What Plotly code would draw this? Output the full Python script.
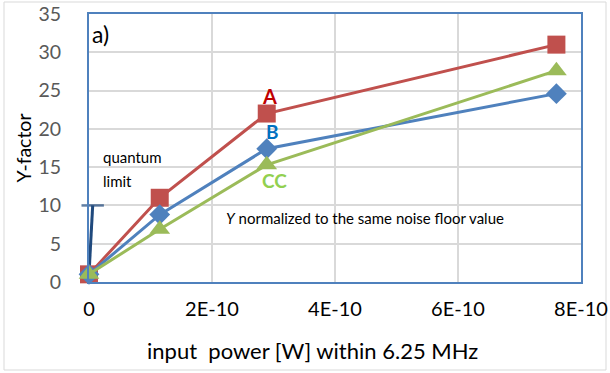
import plotly.graph_objects as go

# data
x_vals = [0, 1.15e-10, 2.89e-10, 7.6e-10]
y_A = [1, 11, 22, 31]
y_B = [1, 8.8, 17.4, 24.6]
y_CC = [1, 6.9, 15.3, 27.6]
quantum_x = [0, 0.06e-10]
quantum_y = [1, 10]
x_tickvals = [0, 2e-10, 4e-10, 6e-10, 8e-10]
x_ticktext = ["0", "2E-10", "4E-10", "6E-10", "8E-10"]
y_tickvals = [0, 5, 10, 15, 20, 25, 30, 35]
x_title = "input  power [W] within 6.25 MHz"

FONT = "Lato, Carlito, Calibri, sans-serif"
RED, BLUE, GREEN, DARK = "#c0504d", "#4f81bd", "#9bbb59", "#1f497d"

fig = go.Figure()
fig.add_trace(go.Scatter(x=quantum_x, y=quantum_y, mode="lines+markers",
                         line=dict(color=DARK, width=3),
                         marker=dict(symbol="line-ew", size=[0, 16],
                                     line=dict(color=DARK, width=2.5)),
                         showlegend=False, cliponaxis=False))
fig.add_trace(go.Scatter(x=x_vals, y=y_A, mode="lines+markers",
                         line=dict(color=RED, width=3),
                         marker=dict(symbol="square", size=18, color=RED),
                         showlegend=False, cliponaxis=False))
fig.add_trace(go.Scatter(x=x_vals, y=y_B, mode="lines+markers",
                         line=dict(color=BLUE, width=3),
                         marker=dict(symbol="diamond", size=16, color=BLUE),
                         showlegend=False, cliponaxis=False))
fig.add_trace(go.Scatter(x=x_vals, y=y_CC, mode="lines+markers",
                         line=dict(color=GREEN, width=3),
                         marker=dict(symbol="triangle-up", size=18, color=GREEN),
                         showlegend=False, cliponaxis=False))

ann = [
    dict(x=0.02e-10, y=32.4, text="a)", xanchor="left", font=dict(size=23, color="black")),
    dict(x=2.94e-10, y=24.3, text="<b>A</b>", font=dict(size=20, color="#c00000")),
    dict(x=2.99e-10, y=19.7, text="<b>B</b>", font=dict(size=19, color="#0070c0")),
    dict(x=3.01e-10, y=13.3, text="<b>CC</b>", font=dict(size=19, color="#92d050")),
    dict(x=0.2e-10, y=16.3, text="quantum", xanchor="left", font=dict(size=15, color="black")),
    dict(x=0.2e-10, y=13.2, text="limit", xanchor="left", font=dict(size=15, color="black")),
    dict(x=2.2e-10, y=8.3, text="<i>Y</i> normalized to the same noise floor value",
         xanchor="left", font=dict(size=15, color="black")),
]
for a in ann:
    a.update(showarrow=False, xref="x", yref="y", yanchor="middle")
    fig.add_annotation(**a)

# outer chart border / paper-coordinate helpers
pw, ph = 492, 268
def px(v): return (v - 89) / pw
def py(v): return (282 - v) / ph
fig.add_shape(type="rect", xref="paper", yref="paper",
              x0=px(4), x1=px(606), y0=py(370), y1=py(2),
              line=dict(color="#d9d9d9", width=1), layer="below")
fig.add_annotation(x=px(312), y=py(350), xref="paper", yref="paper",
                   text=x_title, showarrow=False, xanchor="center", yanchor="middle",
                   font=dict(size=22, color="black"))

fig.update_layout(
    width=610, height=373,
    margin=dict(l=89, r=29, t=14, b=91),
    paper_bgcolor="white", plot_bgcolor="white",
    font=dict(family=FONT),
    xaxis=dict(range=[0, 8e-10], tickvals=x_tickvals, ticktext=x_ticktext,
               showgrid=True, gridcolor="#d9d9d9", gridwidth=1.5,
               zeroline=False, showline=True, mirror=True, automargin=False,
               linecolor=BLUE, linewidth=2, ticks="",
               tickfont=dict(size=20, color="black"), ticklabelstandoff=8),
    yaxis=dict(range=[0, 35], tickvals=y_tickvals,
               showgrid=True, gridcolor="#d9d9d9", gridwidth=1.5,
               zeroline=False, showline=True, mirror=True, automargin=False,
               linecolor=BLUE, linewidth=2, ticks="",
               tickfont=dict(size=19.5, color="#595959"), ticklabelstandoff=22,
               title=dict(text="Y-factor", font=dict(size=19.5, color="black"), standoff=2)),
)

fig.write_html("out.html", config={"displayModeBar": False},
               post_script="document.body.style.margin='0';")
